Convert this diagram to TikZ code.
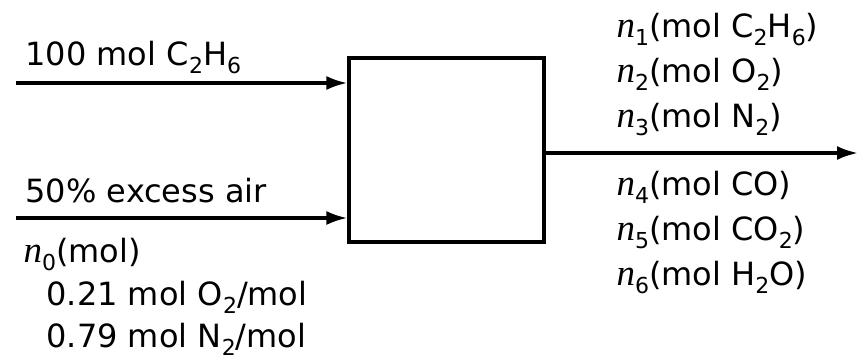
\documentclass[tikz,border=0pt]{standalone}
\usepackage{fontspec}
\setmainfont{DejaVu Sans}
\newfontfamily\varfont{Liberation Serif}
\usetikzlibrary{arrows.meta}

% italic mole variable with an index, and a formula subscript
\newcommand{\chs}[1]{\raisebox{-0.27em}{\fontsize{22}{22}\selectfont #1}}
\newcommand{\molvar}[1]{{\varfont\itshape\fontsize{37}{38}\selectfont n}\chs{#1}}

\begin{document}
\begin{tikzpicture}[x=1pt, y=-1pt, line width=3.2pt,
  flow/.style={-{Latex[length=21pt,width=14pt]}},
  lbl/.style={anchor=base west, inner sep=0pt, font=\fontsize{32}{38}\selectfont}]
  \useasboundingbox (0,0) rectangle (858,360);
  % process unit
  \node[draw, minimum width=195pt, minimum height=184pt, inner sep=0pt] (unit) at (446.5,150) {};
  % feed streams
  \coordinate (fuelIn) at (16,83);
  \coordinate (airIn) at (16,218);
  \draw[flow] (fuelIn) -- (fuelIn -| unit.west);
  \draw[flow] (airIn) -- (airIn -| unit.west);
  % product stream
  \coordinate (prodOut) at (858,153);
  \draw[flow] (prodOut -| unit.east) -- (prodOut);
  % feed labels
  \node[lbl] (fuelLbl) at (24,65) {100 mol C\chs{2}H\chs{6}};
  \node[lbl] (airLbl) at (24,202) {50\% excess air};
  \node[lbl] (airAmt) at (22,262) {\molvar{0}(mol)};
  \node[lbl] (airOx) at (45,305) {0.21 mol O\chs{2}/mol};
  \node[lbl] (airNi) at (45,347) {0.79 mol N\chs{2}/mol};
  % product labels
  \node[lbl] (prodA) at (615,37) {\molvar{1}(mol C\chs{2}H\chs{6})};
  \node[lbl] (prodB) at (615,82) {\molvar{2}(mol O\chs{2})};
  \node[lbl] (prodC) at (615,127) {\molvar{3}(mol N\chs{2})};
  \node[lbl] (prodD) at (615,195) {\molvar{4}(mol CO)};
  \node[lbl] (prodE) at (615,240) {\molvar{5}(mol CO\chs{2})};
  \node[lbl] (prodF) at (615,285) {\molvar{6}(mol H\chs{2}O)};
\end{tikzpicture}
\end{document}
